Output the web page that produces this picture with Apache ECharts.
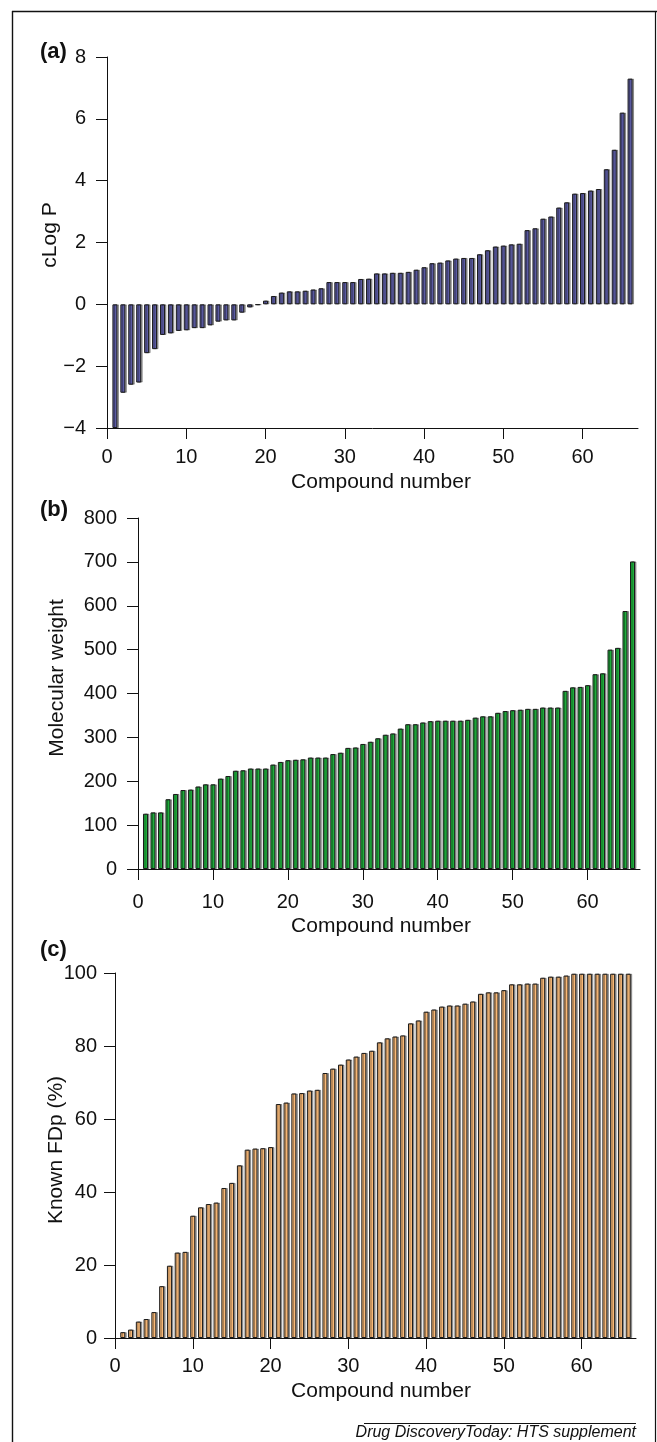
<!DOCTYPE html>
<html>
<head>
<meta charset="utf-8">
<script src="https://cdn.jsdelivr.net/npm/echarts@6/dist/echarts.min.js"></script>
<style>
html,body{margin:0;padding:0;background:#fff;}
#c{width:657px;height:1442px;}
</style>
</head>
<body>
<div id="c"></div>
<script>
// ---------- data ----------
const compounds = [1,2,3,4,5,6,7,8,9,10,11,12,13,14,15,16,17,18,19,20,
  21,22,23,24,25,26,27,28,29,30,31,32,33,34,35,36,37,38,39,40,
  41,42,43,44,45,46,47,48,49,50,51,52,53,54,55,56,57,58,59,60,
  61,62,63,64,65,66];

const cLogP = [-4.0,-2.86,-2.6,-2.53,-1.58,-1.45,-0.99,-0.94,-0.86,-0.84,
  -0.77,-0.77,-0.68,-0.56,-0.52,-0.52,-0.27,-0.1,-0.02,0.12,
  0.27,0.38,0.42,0.42,0.44,0.48,0.52,0.72,0.72,0.72,
  0.72,0.82,0.83,1.0,1.0,1.02,1.02,1.05,1.12,1.2,
  1.33,1.35,1.42,1.48,1.5,1.5,1.62,1.75,1.87,1.9,
  1.94,1.96,2.4,2.46,2.77,2.84,3.13,3.3,3.58,3.6,
  3.68,3.73,4.37,5.0,6.2,7.3];

const molWeight = [126,129,129,159,171,180,181,188,193,193,
  206,212,224,225,229,229,229,238,244,248,
  249,250,254,254,254,262,265,276,277,285,
  290,298,306,309,320,330,330,334,337,338,
  338,338,338,340,345,348,348,356,360,362,
  363,365,365,368,368,368,406,414,415,419,
  444,446,500,504,588,701];

const knownFDp = [1.6,2.3,4.5,5.2,7.1,14.2,19.8,23.4,23.6,33.5,
  35.8,36.7,37.1,41.1,42.5,47.3,51.6,51.9,52.0,52.3,
  64.1,64.5,67.0,67.1,67.8,68.0,72.6,73.8,74.9,76.3,
  77.1,78.1,78.7,81.0,82.1,82.6,82.9,86.2,87.0,89.4,
  90.0,90.8,91.1,91.1,91.6,92.2,94.3,94.7,94.7,95.3,
  96.9,96.9,97.1,97.1,98.7,99.0,99.0,99.3,99.8,99.8,
  99.8,99.8,99.8,99.8,99.8,99.8];

const xTicks = [0,10,20,30,40,50,60];
const xMax = 67;
const cLogPTicks = [-4,-2,0,2,4,6,8];
const molWeightTicks = [0,100,200,300,400,500,600,700,800];
const knownFDpTicks = [0,20,40,60,80,100];

const panelLabels = ['(a)','(b)','(c)'];
const xTitle = 'Compound number';
const yTitles = ['cLog P','Molecular weight','Known FDp (%)'];
const footer = 'Drug DiscoveryToday: HTS supplement';

// ---------- chart ----------
const FONT = '"Liberation Sans", Arial, Helvetica, sans-serif';
const INK = '#111';
const chart = echarts.init(document.getElementById('c'), null, {renderer:'canvas'});

const grids = [
  {left:107, top:57,  width:531, height:371},
  {left:138, top:518, width:502, height:351},
  {left:115, top:973, width:521, height:365}
];
const xMargins = [19, 23, 18];
const yMargins = [21, 21, 18];
const yTickSets = [cLogPTicks, molWeightTicks, knownFDpTicks];
const seriesValues = [cLogP, molWeight, knownFDp];
const colors = ['#5b5ba3', '#1fae3c', '#f9b977'];
const titleY = [482, 926, 1391];
const yTitlePos = [[50,235],[57,678],[56,1150]];
const panelY = [52, 510, 950];

function fmt(v){ return v < 0 ? '\u2212' + Math.abs(v) : String(v); }

const xAxes = grids.map((g,i)=>({
  type:'value', gridIndex:i, min:0, max:xMax,
  axisLine:{onZero:false, lineStyle:{color:INK, width:1}},
  axisTick:{length:11, customValues:xTicks, lineStyle:{color:INK, width:1}},
  axisLabel:{customValues:xTicks, margin:xMargins[i], fontSize:20, color:INK, fontFamily:FONT},
  splitLine:{show:false}
}));
const yAxes = grids.map((g,i)=>{
  const t = yTickSets[i];
  return {
    type:'value', gridIndex:i, min:t[0], max:t[t.length-1], interval:t[1]-t[0],
    axisLine:{show:true, onZero:false, lineStyle:{color:INK, width:1}},
    axisTick:{show:true, length:11, lineStyle:{color:INK, width:1}},
    axisLabel:{margin:yMargins[i], fontSize:20, color:INK, fontFamily:FONT, formatter:fmt},
    splitLine:{show:false}
  };
});
const series = seriesValues.map((vals,i)=>({
  type:'bar', xAxisIndex:i, yAxisIndex:i,
  barWidth:5,
  data: compounds.map((c,k)=>[c, vals[k]]),
  itemStyle:{color:colors[i], borderColor:'#1a1a1a', borderWidth:1,
    shadowColor:'rgba(0,0,0,0.35)', shadowOffsetX:1.5, shadowOffsetY:0, shadowBlur:0},
  emphasis:{disabled:true}
}));

const graphics = [];
// frame
graphics.push({type:'line', shape:{x1:12, y1:11.5, x2:657, y2:11.5}, style:{stroke:'#111', lineWidth:1.6}});
graphics.push({type:'line', shape:{x1:12.5, y1:11, x2:12.5, y2:1442}, style:{stroke:'#111', lineWidth:1.4}});
graphics.push({type:'line', shape:{x1:655.5, y1:11, x2:655.5, y2:1442}, style:{stroke:'#111', lineWidth:1.2}});
for (let i=0;i<3;i++){
  graphics.push({type:'text', x:40, y:panelY[i], style:{text:panelLabels[i], font:'bold 22px '+FONT, fill:INK, textAlign:'left', textVerticalAlign:'middle'}});
  graphics.push({type:'text', x:381, y:titleY[i], style:{text:xTitle, font:'21px '+FONT, fill:INK, textAlign:'center', textVerticalAlign:'middle'}});
  graphics.push({type:'text', x:yTitlePos[i][0], y:yTitlePos[i][1], rotation:Math.PI/2, style:{text:yTitles[i], font:'21px '+FONT, fill:INK, textAlign:'center', textVerticalAlign:'middle'}});
}
graphics.push({type:'line', shape:{x1:364, y1:1423.5, x2:636, y2:1423.5}, style:{stroke:'#111', lineWidth:1}});
graphics.push({type:'text', x:636, y:1433, style:{text:footer, font:'italic 16px '+FONT, fill:INK, textAlign:'right', textVerticalAlign:'middle'}});

chart.setOption({
  animation:false,
  backgroundColor:'#fff',
  grid:grids,
  xAxis:xAxes,
  yAxis:yAxes,
  series:series,
  graphic:graphics
});
</script>
</body>
</html>
